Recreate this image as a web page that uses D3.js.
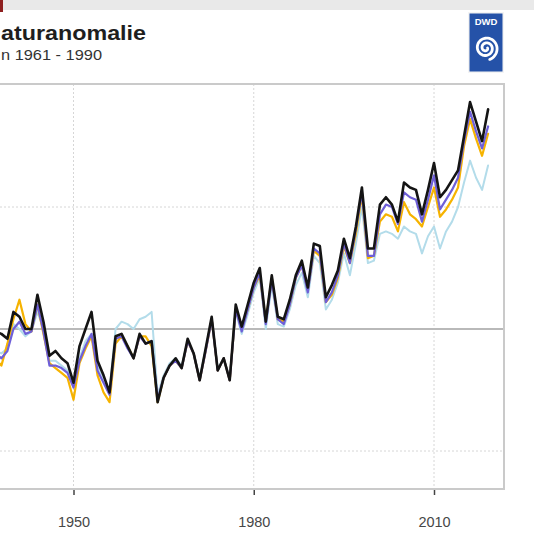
<!DOCTYPE html>
<html>
<head>
<meta charset="utf-8">
<script src="https://cdn.jsdelivr.net/npm/d3@7"></script>
<style>
  html, body { margin: 0; padding: 0; background: #fff; }
  svg { display: block; }
</style>
</head>
<body>
<svg id="chart" width="534" height="545"></svg>
<script>
// Annual global temperature anomaly (°C), reference period 1961 - 1990
const years = d3.range(1937, 2020);

const anomalyBlack = [
  -0.01, -0.02, -0.04, 0.07, 0.05, 0.00, 0.00, 0.14, 0.03, -0.11,
  -0.09, -0.12, -0.14, -0.22, -0.07, 0.00, 0.07, -0.13, -0.19, -0.26,
  -0.03, -0.02, -0.07, -0.12, -0.02, -0.06, -0.05, -0.30, -0.20, -0.15,
  -0.12, -0.16, -0.04, -0.10, -0.21, -0.08, 0.05, -0.17, -0.12, -0.21,
  0.10, 0.01, 0.10, 0.19, 0.25, 0.03, 0.22, 0.05, 0.04, 0.12,
  0.22, 0.28, 0.17, 0.35, 0.34, 0.13, 0.18, 0.24, 0.37, 0.29,
  0.42, 0.58, 0.33, 0.33, 0.51, 0.54, 0.51, 0.44, 0.60, 0.58,
  0.57, 0.47, 0.57, 0.68, 0.54, 0.57, 0.61, 0.65, 0.79, 0.93,
  0.85, 0.77, 0.90
];

const anomalyPurple = [
  -0.10, -0.12, -0.09, 0.00, 0.03, -0.02, -0.01, 0.10, -0.01, -0.15,
  -0.15, -0.16, -0.18, -0.24, -0.13, -0.07, -0.02, -0.17, -0.22, -0.27,
  -0.04, -0.03, -0.08, -0.12, -0.03, -0.06, -0.05, -0.29, -0.20, -0.15,
  -0.13, -0.16, -0.05, -0.10, -0.21, -0.09, 0.04, -0.17, -0.12, -0.21,
  0.08, -0.01, 0.08, 0.17, 0.23, 0.02, 0.20, 0.04, 0.02, 0.10,
  0.21, 0.26, 0.15, 0.33, 0.31, 0.11, 0.15, 0.22, 0.35, 0.27,
  0.41, 0.56, 0.30, 0.30, 0.47, 0.51, 0.50, 0.43, 0.56, 0.54,
  0.53, 0.44, 0.53, 0.63, 0.49, 0.53, 0.57, 0.62, 0.77, 0.89,
  0.81, 0.74, 0.83
];

const anomalyOrange = [
  -0.12, -0.15, -0.06, 0.04, 0.12, 0.02, -0.01, 0.10, -0.02, -0.14,
  -0.16, -0.18, -0.20, -0.29, -0.14, -0.08, -0.03, -0.19, -0.26, -0.30,
  -0.06, -0.03, -0.07, -0.12, -0.03, -0.03, -0.07, -0.30, -0.20, -0.15,
  -0.13, -0.16, -0.05, -0.10, -0.21, -0.09, 0.04, -0.17, -0.12, -0.21,
  0.08, 0.00, 0.08, 0.17, 0.22, 0.03, 0.21, 0.04, 0.03, 0.10,
  0.21, 0.26, 0.16, 0.32, 0.30, 0.11, 0.14, 0.21, 0.34, 0.27,
  0.39, 0.55, 0.29, 0.30, 0.44, 0.47, 0.46, 0.40, 0.52, 0.47,
  0.45, 0.42, 0.50, 0.58, 0.46, 0.49, 0.53, 0.58, 0.75, 0.86,
  0.78, 0.71, 0.80
];

const anomalyLightBlue = [
  -0.09, -0.10, -0.08, 0.02, 0.00, -0.03, -0.01, 0.07, 0.00, -0.13,
  -0.13, -0.15, -0.17, -0.22, -0.12, -0.05, -0.02, -0.15, -0.20, -0.25,
  0.00, 0.03, 0.02, 0.00, 0.04, 0.05, 0.07, -0.27, -0.19, -0.14,
  -0.12, -0.15, -0.05, -0.10, -0.20, -0.08, 0.04, -0.16, -0.12, -0.20,
  0.07, -0.02, 0.06, 0.15, 0.21, 0.00, 0.18, 0.02, 0.01, 0.08,
  0.18, 0.23, 0.13, 0.30, 0.27, 0.08, 0.12, 0.19, 0.31, 0.22,
  0.35, 0.50, 0.27, 0.28, 0.39, 0.40, 0.39, 0.37, 0.42, 0.40,
  0.39, 0.31, 0.38, 0.42, 0.33, 0.40, 0.44, 0.50, 0.60, 0.69,
  0.62, 0.57, 0.67
];

const xTicks = [1950, 1980, 2010];
const yGrid = [-0.5, 0.5];

const svg = d3.select("#chart");

// header strip
svg.append("rect").attr("x", 0).attr("y", 0).attr("width", 534).attr("height", 10).attr("fill", "#e9e9e9");
svg.append("rect").attr("x", 0).attr("y", 0).attr("width", 3).attr("height", 12).attr("fill", "#8e1f1f");

// title and subtitle
svg.append("text")
  .attr("x", 1).attr("y", 40)
  .attr("font-family", "Liberation Sans, Arial, sans-serif")
  .attr("font-weight", "bold")
  .attr("font-size", 20)
  .attr("textLength", 145)
  .attr("lengthAdjust", "spacingAndGlyphs")
  .attr("fill", "#1e1e1e")
  .text("aturanomalie");

svg.append("text")
  .attr("x", 1).attr("y", 60)
  .attr("font-family", "Liberation Sans, Arial, sans-serif")
  .attr("font-size", 15.5)
  .attr("textLength", 101)
  .attr("lengthAdjust", "spacingAndGlyphs")
  .attr("fill", "#333")
  .text("n 1961 - 1990");

// DWD logo
const logo = svg.append("g");
logo.append("rect").attr("x", 468).attr("y", 12).attr("width", 36).attr("height", 61)
  .attr("fill", "#f4f4f4");
logo.append("rect").attr("x", 469.5).attr("y", 13.5).attr("width", 33).attr("height", 58)
  .attr("fill", "#2552a8");
logo.append("text").attr("x", 486).attr("y", 25).attr("text-anchor", "middle")
  .attr("font-family", "Liberation Sans, Arial, sans-serif").attr("font-weight", "bold")
  .attr("font-size", 9.5).attr("fill", "#fff").text("DWD");
{
  const cx = 486, cy = 48, turns = 2.2, rMax = 12;
  const pts = d3.range(0, 1.0001, 0.01).map(t => {
    const a = t * turns * 2 * Math.PI;
    const r = 1.5 + t * (rMax - 1.5);
    return [cx + r * Math.cos(a), cy + r * Math.sin(a)];
  });
  logo.append("path").attr("d", d3.line()(pts))
    .attr("fill", "none").attr("stroke", "#fff").attr("stroke-width", 2.8)
    .attr("stroke-linecap", "round");
}

// plot area
const plot = { left: -20, right: 504, top: 84, bottom: 489 };

const x = d3.scaleLinear().domain([1950, 2010]).range([73.5, 434]);
const y = d3.scaleLinear().domain([-0.5, 0.5]).range([451, 207]);

svg.append("defs").append("clipPath").attr("id", "plotClip")
  .append("rect")
  .attr("x", plot.left).attr("y", plot.top)
  .attr("width", plot.right - plot.left).attr("height", plot.bottom - plot.top);

// grid
const grid = svg.append("g");
grid.selectAll("line.v").data(xTicks).join("line")
  .attr("x1", d => x(d)).attr("x2", d => x(d))
  .attr("y1", plot.top).attr("y2", plot.bottom)
  .attr("stroke", "#d6d6d6").attr("stroke-width", 1).attr("stroke-dasharray", "2,2");
grid.selectAll("line.h").data(yGrid).join("line")
  .attr("x1", plot.left).attr("x2", plot.right)
  .attr("y1", d => y(d)).attr("y2", d => y(d))
  .attr("stroke", "#d6d6d6").attr("stroke-width", 1).attr("stroke-dasharray", "2,2");
grid.append("line")
  .attr("x1", plot.left).attr("x2", plot.right)
  .attr("y1", y(0)).attr("y2", y(0))
  .attr("stroke", "#b9b9b9").attr("stroke-width", 2);

// series
const series = [
  { values: anomalyLightBlue, color: "#b3dcea", width: 2 },
  { values: anomalyOrange, color: "#f6b300", width: 2.2 },
  { values: anomalyPurple, color: "#6e5fd8", width: 2.2 },
  { values: anomalyBlack, color: "#141414", width: 2.6 }
];

const line = d3.line()
  .x((d, i) => x(years[i]))
  .y(d => y(d));

const lines = svg.append("g").attr("clip-path", "url(#plotClip)");
lines.selectAll("path").data(series).join("path")
  .attr("d", d => line(d.values))
  .attr("fill", "none")
  .attr("stroke", d => d.color)
  .attr("stroke-width", d => d.width)
  .attr("stroke-linejoin", "round")
  .attr("stroke-linecap", "round");

// frame
svg.append("rect")
  .attr("x", plot.left).attr("y", plot.top)
  .attr("width", plot.right - plot.left).attr("height", plot.bottom - plot.top)
  .attr("fill", "none").attr("stroke", "#cacaca").attr("stroke-width", 2);

// x axis
const xAxis = d3.axisBottom(x).tickValues(xTicks).tickFormat(d3.format("d"))
  .tickSize(5).tickPadding(22);
const axisG = svg.append("g").attr("transform", `translate(0,${plot.bottom + 1})`).call(xAxis);
axisG.select(".domain").remove();
axisG.selectAll(".tick line").attr("stroke", "#444").attr("stroke-width", 1.5);
axisG.selectAll(".tick text")
  .attr("font-family", "Liberation Sans, Arial, sans-serif")
  .attr("font-size", 14.5)
  .attr("fill", "#474747");
</script>
</body>
</html>
